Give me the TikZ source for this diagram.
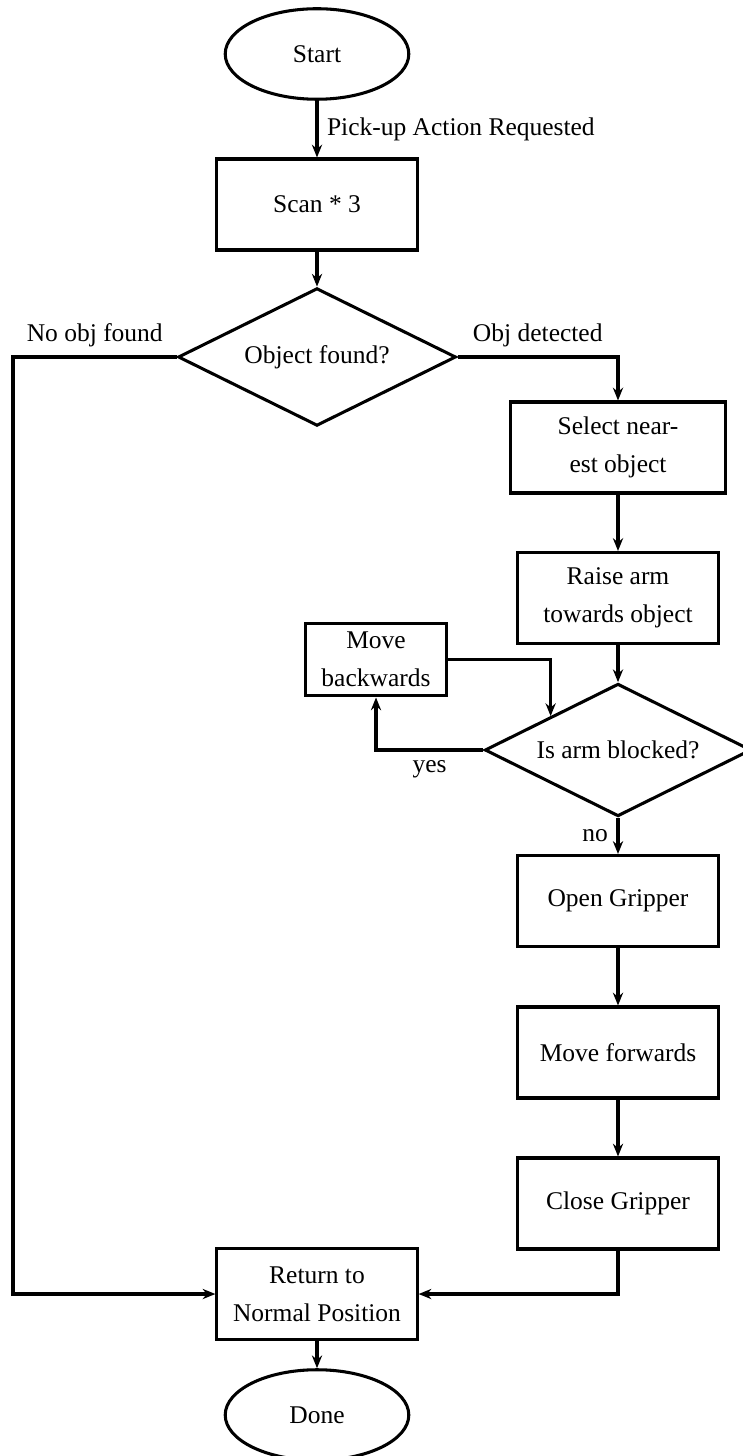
\documentclass[tikz,border=0pt]{standalone}
\usepackage{fontspec}
\setmainfont{Liberation Serif}
\usetikzlibrary{positioning,arrows.meta,shapes.geometric,calc}
\tikzset{
  terminal/.style={ellipse,draw,very thick,minimum width=72pt,minimum height=35.5pt,inner sep=1pt},
  process/.style={rectangle,draw,very thick,align=center,font=\linespread{1.25}\selectfont,minimum width=78.5pt,minimum height=35.7pt},
  smallprocess/.style={rectangle,draw,very thick,align=center,font=\linespread{1.25}\selectfont,inner sep=2.5pt,minimum width=55pt,minimum height=28.6pt},
  decision/.style={diamond,draw,very thick,aspect=2,inner sep=1pt,align=center},
  edge/.style={-{Stealth[length=5pt,width=4pt]},very thick}
}

\begin{document}
\begin{tikzpicture}[x=0.3922pt,y=-0.3922pt]
  \useasboundingbox (0,0) rectangle (743,1456);
  % main column
  \node[terminal] (start) at (317,54) {Start};
  \node[process] (scan) at (317,204.5) {Scan * 3};
  \node[decision,minimum width=109pt,minimum height=54pt] (found) at (317,357) {Object found?};
  \node[process] (return) at (317,1294) {Return to\\Normal Position};
  \node[terminal] (done) at (317,1415) {Done};
  % right column
  \node[process,minimum width=84pt] (select) at (618,447.5) {Select near-\\est object};
  \node[process] (raise) at (618,598) {Raise arm\\towards object};
  \node[smallprocess] (movebk) at (376,659.5) {Move\\backwards};
  \node[decision,minimum width=104.5pt,minimum height=52pt] (blocked) at (618,750) {Is arm blocked?};
  \node[process] (open) at (618,901) {Open Gripper};
  \node[process] (fwd) at (618,1052.5) {Move forwards};
  \node[process] (close) at (618,1203.5) {Close Gripper};
  \coordinate (lft) at (13,357);

  \draw[edge] (start) -- node[right] {Pick-up Action Requested} (scan);
  \draw[edge] (scan) -- (found);
  \draw[edge] (found.east) -- node[above] {Obj detected} (found.east -| select) -- (select);
  \draw[edge] (found.west) -- node[above] {No obj found} (lft) |- (return.west);
  \draw[edge] (select) -- (raise);
  \draw[edge] (raise) -- (blocked);
  \draw[edge] (blocked.west) -- node[below] {yes} (blocked.west -| movebk) -- (movebk);
  \draw[edge] (movebk.east) -| (blocked.north west);
  \draw[edge] (blocked) -- node[left] {no} (open);
  \draw[edge] (open) -- (fwd);
  \draw[edge] (fwd) -- (close);
  \draw[edge] (close) |- (return.east);
  \draw[edge] (return) -- (done);
\end{tikzpicture}
\end{document}
